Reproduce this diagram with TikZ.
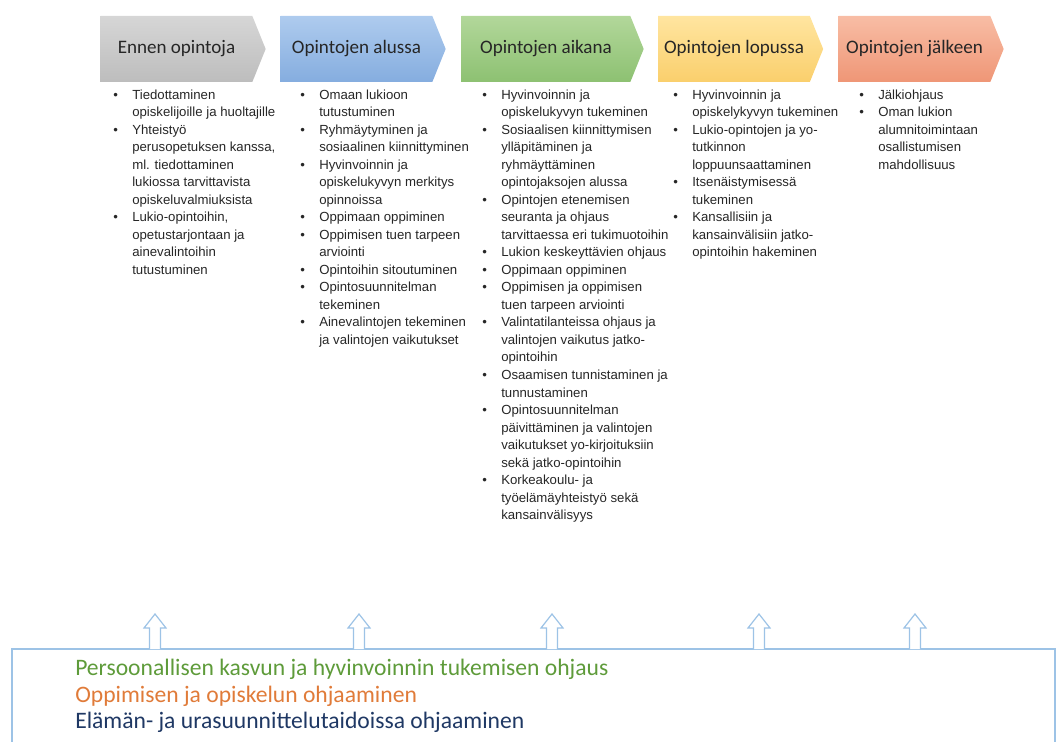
\documentclass[tikz,border=0pt]{standalone}
\usepackage{fontspec}
\setmainfont{Liberation Sans}
\newfontfamily\headfont{Carlito}
\usetikzlibrary{shapes.symbols}

\definecolor{graytop}{HTML}{D6D6D6}
\definecolor{graybot}{HTML}{BDBDBD}
\definecolor{bluetop}{HTML}{AECBEE}
\definecolor{bluebot}{HTML}{85ADDF}
\definecolor{greentop}{HTML}{B2D79A}
\definecolor{greenbot}{HTML}{8DC172}
\definecolor{yellowtop}{HTML}{FFE5A0}
\definecolor{yellowbot}{HTML}{FACF6C}
\definecolor{salmontop}{HTML}{F8BDA5}
\definecolor{salmonbot}{HTML}{EF9676}
\definecolor{boxblue}{HTML}{9DC3E6}
\definecolor{textgreen}{HTML}{5E9B3A}
\definecolor{textorange}{HTML}{E07B39}
\definecolor{textnavy}{HTML}{1F3864}

\tikzset{
  phase/.style={signal, signal to=east, signal pointer angle=136,
    minimum width=123.75pt, minimum height=49.5pt, inner sep=0pt,
    font=\headfont\fontsize{14.3pt}{16pt}\selectfont, text=black!85},
  steplist/.style={anchor=base west, inner sep=0pt,
    font=\fontsize{9.9pt}{13.15pt}\selectfont, text=black!85},
  uparrow/.style={draw=boxblue, line width=0.9pt, fill=white},
  guideline/.style={draw=boxblue, line width=1.5pt},
  guidetext/.style={anchor=base west, inner sep=0pt,
    font=\headfont\fontsize{17.7pt}{19.9pt}\selectfont},
}

\begin{document}
\begin{tikzpicture}[x=0.75pt, y=-0.75pt]
	\useasboundingbox (0,0) rectangle (1061,742);

	% vaiheet
	\node[phase, top color=graytop, bottom color=graybot] (ennen) at (176.5,49) {Ennen opintoja};
	\node[phase, top color=bluetop, bottom color=bluebot] (alussa) at (356.5,49) {Opintojen alussa};
	\node[phase, top color=greentop, bottom color=greenbot, minimum width=136.5pt] (aikana) at (546,49) {Opintojen aikana};
	\node[phase, top color=yellowtop, bottom color=yellowbot] (lopussa) at (734,49) {Opintojen lopussa};
	\node[phase, top color=salmontop, bottom color=salmonbot] (jalkeen) at (914.5,49) {Opintojen jälkeen};

	% sisällöt
	\node[steplist] (ennenlist) at (113,99) {\begin{tabular}[t]{@{}p{14.25pt}@{}l@{}}
		\textbullet & Tiedottaminen\\
		 & opiskelijoille ja huoltajille\\
		\textbullet & Yhteistyö\\
		 & perusopetuksen kanssa,\\
		 & ml. tiedottaminen\\
		 & lukiossa tarvittavista\\
		 & opiskeluvalmiuksista\\
		\textbullet & Lukio-opintoihin,\\
		 & opetustarjontaan ja\\
		 & ainevalintoihin\\
		 & tutustuminen
	\end{tabular}};
	\node[steplist] (alussalist) at (300,99) {\begin{tabular}[t]{@{}p{14.25pt}@{}l@{}}
		\textbullet & Omaan lukioon\\
		 & tutustuminen\\
		\textbullet & Ryhmäytyminen ja\\
		 & sosiaalinen kiinnittyminen\\
		\textbullet & Hyvinvoinnin ja\\
		 & opiskelukyvyn merkitys\\
		 & opinnoissa\\
		\textbullet & Oppimaan oppiminen\\
		\textbullet & Oppimisen tuen tarpeen\\
		 & arviointi\\
		\textbullet & Opintoihin sitoutuminen\\
		\textbullet & Opintosuunnitelman\\
		 & tekeminen\\
		\textbullet & Ainevalintojen tekeminen\\
		 & ja valintojen vaikutukset
	\end{tabular}};
	\node[steplist] (aikanalist) at (482,99) {\begin{tabular}[t]{@{}p{14.25pt}@{}l@{}}
		\textbullet & Hyvinvoinnin ja\\
		 & opiskelukyvyn tukeminen\\
		\textbullet & Sosiaalisen kiinnittymisen\\
		 & ylläpitäminen ja\\
		 & ryhmäyttäminen\\
		 & opintojaksojen alussa\\
		\textbullet & Opintojen etenemisen\\
		 & seuranta ja ohjaus\\
		 & tarvittaessa eri tukimuotoihin\\
		\textbullet & Lukion keskeyttävien ohjaus\\
		\textbullet & Oppimaan oppiminen\\
		\textbullet & Oppimisen ja oppimisen\\
		 & tuen tarpeen arviointi\\
		\textbullet & Valintatilanteissa ohjaus ja\\
		 & valintojen vaikutus jatko-\\
		 & opintoihin\\
		\textbullet & Osaamisen tunnistaminen ja\\
		 & tunnustaminen\\
		\textbullet & Opintosuunnitelman\\
		 & päivittäminen ja valintojen\\
		 & vaikutukset yo-kirjoituksiin\\
		 & sekä jatko-opintoihin\\
		\textbullet & Korkeakoulu- ja\\
		 & työelämäyhteistyö sekä\\
		 & kansainvälisyys
	\end{tabular}};
	\node[steplist] (lopussalist) at (673,99) {\begin{tabular}[t]{@{}p{14.25pt}@{}l@{}}
		\textbullet & Hyvinvoinnin ja\\
		 & opiskelykyvyn tukeminen\\
		\textbullet & Lukio-opintojen ja yo-\\
		 & tutkinnon\\
		 & loppuunsaattaminen\\
		\textbullet & Itsenäistymisessä\\
		 & tukeminen\\
		\textbullet & Kansallisiin ja\\
		 & kansainvälisiin jatko-\\
		 & opintoihin hakeminen
	\end{tabular}};
	\node[steplist] (jalkeenlist) at (859,99) {\begin{tabular}[t]{@{}p{14.25pt}@{}l@{}}
		\textbullet & Jälkiohjaus\\
		\textbullet & Oman lukion\\
		 & alumnitoimintaan\\
		 & osallistumisen\\
		 & mahdollisuus
	\end{tabular}};

	% ohjauksen osa-alueet
	\draw[guideline] (12,649) rectangle (1055,760);
	\foreach \x in {155,359,552,759,915}
		\draw[uparrow] ({\x-5.5},649) -- ({\x-5.5},628) -- ({\x-11},628) -- (\x,614)
			-- ({\x+11},628) -- ({\x+5.5},628) -- ({\x+5.5},649);
	\node[guidetext, text=textgreen] (kasvu) at (75,675) {Persoonallisen kasvun ja hyvinvoinnin tukemisen ohjaus};
	\node[guidetext, text=textorange] (oppiminen) at (75,702) {Oppimisen ja opiskelun ohjaaminen};
	\node[guidetext, text=textnavy] (ura) at (75,728) {Elämän- ja urasuunnittelutaidoissa ohjaaminen};
\end{tikzpicture}
\end{document}
